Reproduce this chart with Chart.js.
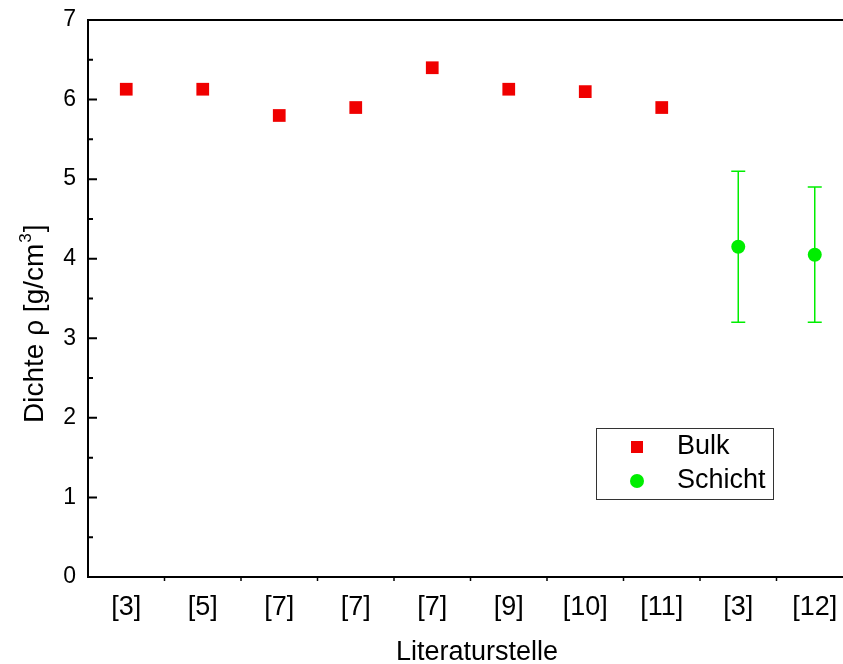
<!DOCTYPE html>
<html>
<head>
<meta charset="utf-8">
<script src="https://cdn.jsdelivr.net/npm/chart.js@4"></script>
<style>
  html, body { margin: 0; padding: 0; background: #fff; overflow: hidden; }
  #wrap { width: 843px; height: 664px; overflow: hidden; position: relative; }
  canvas { display: block; }
</style>
</head>
<body>
<div id="wrap"><canvas id="c" width="862" height="664" style="width:862px;height:664px"></canvas></div>
<script>
const categories = ["[3]", "[5]", "[7]", "[7]", "[7]", "[9]", "[10]", "[11]", "[3]", "[12]"];
const bulkValues = [6.13, 6.13, 5.8, 5.9, 6.4, 6.13, 6.1, 5.9, null, null];
const schichtValues = [null, null, null, null, null, null, null, null, 4.15, 4.05];
const schichtLow = [null, null, null, null, null, null, null, null, 3.2, 3.2];
const schichtHigh = [null, null, null, null, null, null, null, null, 5.1, 4.9];
const yTicks = [0, 1, 2, 3, 4, 5, 6, 7];
const xTitle = 'Literaturstelle';
const yTitleMain = 'Dichte ρ [g/cm';
const yTitleSup = '3';
const yTitleEnd = ']';

const FONT = "'Liberation Sans', Arial, sans-serif";
const RED = '#f00000';
const GREEN = '#00ee00';

const framePlugin = {
  id: 'frame',
  afterDatasetsDraw(chart) {
    const ctx = chart.ctx;
    const a = chart.chartArea;
    const y = chart.scales.y, x = chart.scales.x;
    ctx.save();
    // error bars
    ctx.strokeStyle = GREEN;
    ctx.lineWidth = 1.5;
    schichtValues.forEach((v, i) => {
      if (v === null) return;
      const px = x.getPixelForValue(i);
      const lo = y.getPixelForValue(schichtLow[i]);
      const hi = y.getPixelForValue(schichtHigh[i]);
      ctx.beginPath();
      ctx.moveTo(px, lo); ctx.lineTo(px, hi);
      ctx.moveTo(px - 7, lo); ctx.lineTo(px + 7, lo);
      ctx.moveTo(px - 7, hi); ctx.lineTo(px + 7, hi);
      ctx.stroke();
    });
    // frame
    ctx.strokeStyle = '#000';
    ctx.lineWidth = 2;
    ctx.strokeRect(a.left, a.top, a.right - a.left, a.bottom - a.top);
    // y ticks (inward, left & right)
    for (let v = 0; v <= 7.001; v += 0.5) {
      const py = y.getPixelForValue(v);
      const major = Math.abs(v - Math.round(v)) < 1e-6;
      const len = major ? 9 : 5;
      ctx.beginPath();
      ctx.moveTo(a.left, py); ctx.lineTo(a.left + len, py);
      ctx.moveTo(a.right, py); ctx.lineTo(a.right - len, py);
      ctx.stroke();
    }
    // x ticks at category boundaries (small, outward)
    ctx.lineWidth = 1.5;
    for (let i = 1; i < categories.length; i++) {
      const px = (x.getPixelForValue(i - 1) + x.getPixelForValue(i)) / 2;
      ctx.beginPath();
      ctx.moveTo(px, a.bottom); ctx.lineTo(px, a.bottom + 4);
      ctx.stroke();
    }
    // axis titles
    ctx.fillStyle = '#000';
    ctx.font = '27px ' + FONT;
    ctx.textAlign = 'center';
    ctx.textBaseline = 'alphabetic';
    ctx.fillText(xTitle, 477, 660);
    ctx.save();
    ctx.translate(43, 423);
    ctx.rotate(-Math.PI / 2);
    ctx.textAlign = 'left';
    ctx.font = '28px ' + FONT;
    ctx.fillText(yTitleMain, 0, 0);
    let w = ctx.measureText(yTitleMain).width;
    ctx.font = '17px ' + FONT;
    ctx.fillText(yTitleSup, w + 1, -12);
    w += ctx.measureText(yTitleSup).width + 2;
    ctx.font = '28px ' + FONT;
    ctx.fillText(yTitleEnd, w, 0);
    ctx.restore();
    // legend
    const lx = 596, ly = 428, lw = 177, lh = 71;
    ctx.fillStyle = '#fff';
    ctx.fillRect(lx, ly, lw, lh);
    ctx.strokeStyle = '#333';
    ctx.lineWidth = 1;
    ctx.strokeRect(lx + 0.5, ly + 0.5, lw, lh);
    ctx.fillStyle = RED;
    ctx.fillRect(637 - 6, 447 - 6, 12, 12);
    ctx.fillStyle = GREEN;
    ctx.beginPath(); ctx.arc(637, 481, 7, 0, Math.PI * 2); ctx.fill();
    ctx.fillStyle = '#000';
    ctx.font = '27px ' + FONT;
    ctx.textBaseline = 'middle';
    ctx.textAlign = 'left';
    ctx.fillText(chart.data.datasets[0].label, 677, 447);
    ctx.fillText(chart.data.datasets[1].label, 677, 481);
    ctx.restore();
  }
};

new Chart(document.getElementById('c'), {
  type: 'line',
  data: {
    labels: categories,
    datasets: [
      {
        label: 'Bulk',
        data: bulkValues,
        showLine: false,
        pointStyle: 'rect',
        pointRadius: 9,
        pointHoverRadius: 9,
        backgroundColor: RED,
        borderColor: RED,
        borderWidth: 0
      },
      {
        label: 'Schicht',
        data: schichtValues,
        showLine: false,
        pointStyle: 'circle',
        pointRadius: 7,
        pointHoverRadius: 7,
        backgroundColor: GREEN,
        borderColor: GREEN,
        borderWidth: 0
      }
    ]
  },
  options: {
    responsive: false,
    maintainAspectRatio: false,
    devicePixelRatio: 1,
    animation: false,
    layout: { padding: { top: 20, right: 2, left: 0, bottom: 0 } },
    plugins: { legend: { display: false }, tooltip: { enabled: false } },
    scales: {
      x: {
        type: 'category',
        offset: true,
        grid: { display: false, drawTicks: false },
        border: { display: false },
        ticks: { color: '#000', font: { family: FONT, size: 27 }, padding: 14, autoSkip: false, maxRotation: 0 },
        afterFit(scale) { scale.height = 87; scale.paddingLeft = 0; scale.paddingRight = 0; }
      },
      y: {
        min: 0, max: 7,
        afterBuildTicks(scale) { scale.ticks = yTicks.map(v => ({ value: v })); },
        grid: { display: false, drawTicks: false },
        border: { display: false },
        ticks: { color: '#000', font: { family: FONT, size: 23 }, padding: 12 },
        afterFit(scale) { scale.width = 88; scale.paddingTop = 0; scale.paddingBottom = 0; }
      }
    }
  },
  plugins: [framePlugin]
});
</script>
</body>
</html>
